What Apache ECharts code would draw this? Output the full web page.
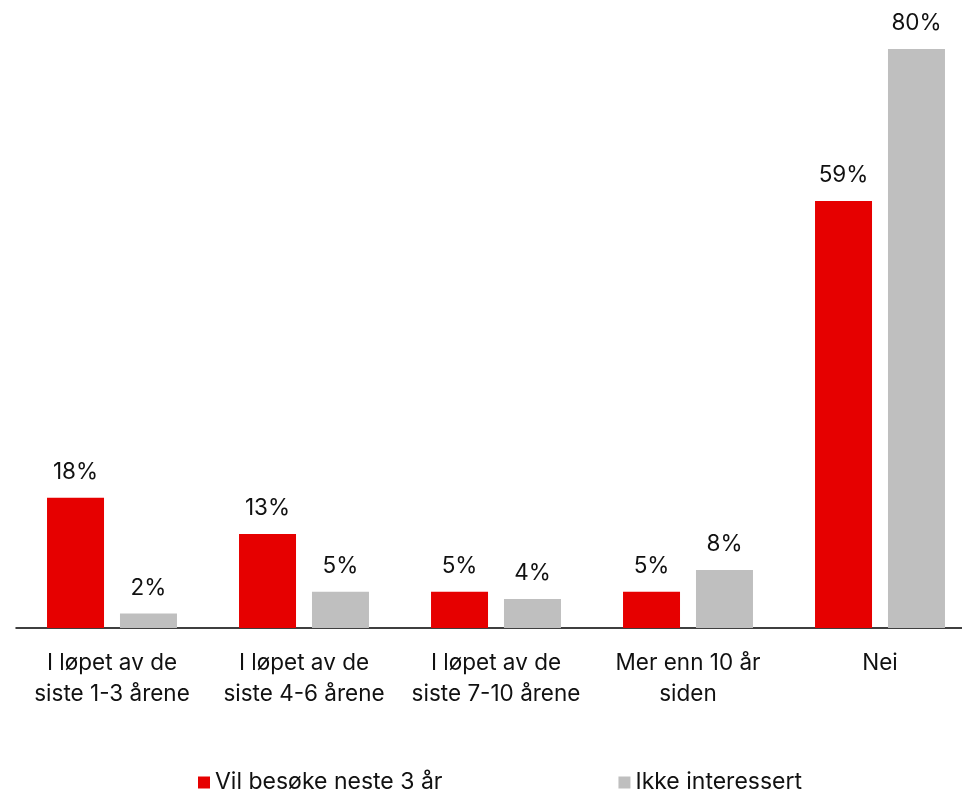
<!DOCTYPE html>
<html>
<head>
<meta charset="utf-8">
<script src="https://cdn.jsdelivr.net/npm/echarts@6/dist/echarts.min.js"></script>
<style>html,body{margin:0;padding:0;background:#fff;overflow:hidden;width:962px;height:790px}#c{width:980px;height:790px}</style>
</head>
<body>
<div id="c"></div>
<script>
const categories = ["I løpet av de\nsiste 1-3 årene", "I løpet av de\nsiste 4-6 årene", "I løpet av de\nsiste 7-10 årene", "Mer enn 10 år\nsiden", "Nei"];
const seriesNames = ["Vil besøke neste 3 år", "Ikke interessert"];
const visitValues = [18, 13, 5, 5, 59];
const notInterestedValues = [2, 5, 4, 8, 80];

const FONT = "Inter";
const chart = echarts.init(document.getElementById('c'), null, {renderer: 'canvas'});
const labelOpt = {
  show: true, position: 'top', distance: 14,
  formatter: p => p.value + '%',
  fontFamily: FONT, fontSize: 22.5, color: '#111'
};
chart.setOption({
  animation: false,
  grid: {left: 16, right: 4, top: 49, bottom: 162, containLabel: false},
  legend: {
    data: seriesNames, left: 193, top: 766, itemWidth: 12, itemHeight: 12, itemGap: 176,
    icon: 'rect',
    textStyle: {fontFamily: FONT, fontSize: 23, color: '#111'}
  },
  xAxis: {
    type: 'category', data: categories,
    axisLine: {lineStyle: {color: '#000', width: 1.5}},
    axisTick: {show: false},
    axisLabel: {fontFamily: FONT, fontSize: 22.5, color: '#111', margin: 20, lineHeight: 31, interval: 0}
  },
  yAxis: {type: 'value', min: 0, max: 80, show: false, splitLine: {show: false}},
  series: [
    {name: seriesNames[0], type: 'bar', data: visitValues, barWidth: 57, barGap: '28%',
     itemStyle: {color: '#E60000'}, label: labelOpt},
    {name: seriesNames[1], type: 'bar', data: notInterestedValues, barWidth: 57, barGap: '28%',
     itemStyle: {color: '#BFBFBF'}, label: labelOpt}
  ]
});
</script>
</body>
</html>
